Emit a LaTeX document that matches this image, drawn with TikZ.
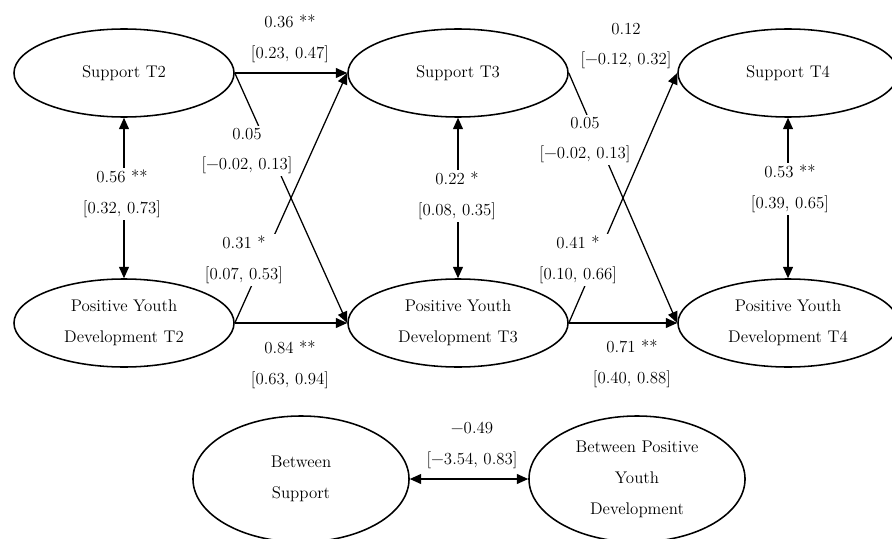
\documentclass[tikz,border=0pt]{standalone}
\usetikzlibrary{shapes.geometric,arrows.meta}

\tikzset{
  latent/.style={ellipse, draw, line width=1.1pt, minimum width=5.5cm, minimum height=2.2cm, align=center, inner sep=0pt},
  between/.style={latent, minimum width=5.4cm, minimum height=3.15cm},
  coef/.style={fill=white, align=center, inner sep=1.5pt},
  path/.style={-{Triangle[length=8pt,width=7pt]}, line width=0.9pt},
  cov/.style={{Triangle[length=8pt,width=7pt]}-{Triangle[length=8pt,width=7pt]}, line width=0.9pt}
}

\begin{document}
\begin{tikzpicture}[x=0.025cm, y=-0.025cm, font=\fontsize{12}{22}\selectfont]
\useasboundingbox (0,0) rectangle (892,538);

\node[latent] (sup_t2) at (124,73)  {Support T2};
\node[latent] (sup_t3) at (458,73)  {Support T3};
\node[latent] (sup_t4) at (788,73)  {Support T4};
\node[latent] (pyd_t2) at (124,323) {Positive Youth\\Development T2};
\node[latent] (pyd_t3) at (458,323) {Positive Youth\\Development T3};
\node[latent] (pyd_t4) at (788,323) {Positive Youth\\Development T4};
\node[between] (btw_sup) at (301,479) {Between\\Support};
\node[between] (btw_pyd) at (637,479) {Between Positive\\Youth\\Development};

\draw[path] (sup_t2.east) -- (sup_t3.west);
\draw[path] (sup_t2.east) -- (pyd_t3.west);
\draw[path] (pyd_t2.east) -- (sup_t3.west);
\draw[path] (pyd_t2.east) -- (pyd_t3.west);
\draw[path] (sup_t3.east) -- (pyd_t4.west);
\draw[path] (pyd_t3.east) -- (sup_t4.west);
\draw[path] (pyd_t3.east) -- (pyd_t4.west);
\draw[cov] (sup_t2) -- (pyd_t2);
\draw[cov] (sup_t3) -- (pyd_t3);
\draw[cov] (sup_t4) -- (pyd_t4);
\draw[cov] (btw_sup) -- (btw_pyd);

\node[coef] (c_s2s3) at (290,39)  {0.36 **\\{[0.23, 0.47]}};
\node[coef] (c_s2p3) at (247,151) {0.05\\{[\textminus0.02, 0.13]}};
\node[coef] (c_p2s3) at (244,260) {0.31 *\\{[0.07, 0.53]}};
\node[coef] (c_p2p3) at (290,365) {0.84 **\\{[0.63, 0.94]}};
\node[coef] (c_s3s4) at (626,46)  {0.12\\{[\textminus0.12, 0.32]}};
\node[coef] (c_s3p4) at (585,140) {0.05\\{[\textminus0.02, 0.13]}};
\node[coef] (c_p3s4) at (578,260) {0.41 *\\{[0.10, 0.66]}};
\node[coef] (c_p3p4) at (632,364) {0.71 **\\{[0.40, 0.88]}};
\node[coef] (c_s2p2) at (122,194) {0.56 **\\{[0.32, 0.73]}};
\node[coef] (c_s3p3) at (457,196) {0.22 *\\{[0.08, 0.35]}};
\node[coef] (c_s4p4) at (790,189) {0.53 **\\{[0.39, 0.65]}};
\node[coef] (c_btw)  at (472,445) {\textminus0.49\\{[\textminus3.54, 0.83]}};
\end{tikzpicture}
\end{document}
